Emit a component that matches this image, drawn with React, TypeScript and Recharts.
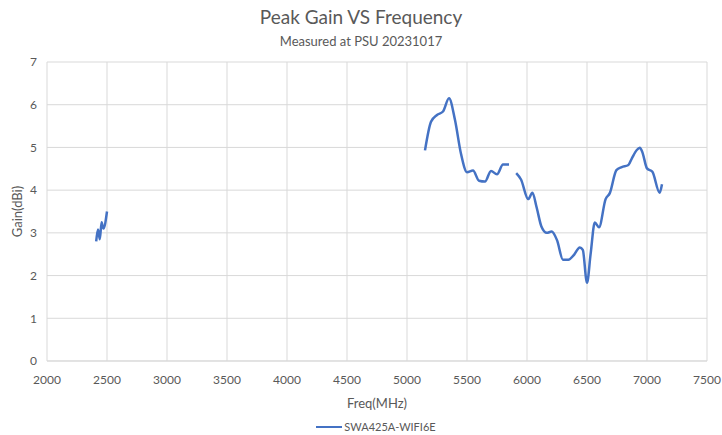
import React from 'react';
import { LineChart, Line, XAxis, YAxis, CartesianGrid } from 'recharts';

// 2.4 GHz band
const band24Freq = [2410, 2425, 2440, 2455, 2470, 2500];
const band24Gain = [2.8, 3.08, 2.85, 3.25, 3.1, 3.5];

// 5 GHz band (UNII 1-3)
const band5Freq = [5150, 5200, 5250, 5300, 5350, 5400, 5450, 5500, 5550, 5600, 5650, 5700, 5750, 5800, 5850];
const band5Gain = [4.93, 5.6, 5.76, 5.84, 6.15, 5.64, 4.85, 4.42, 4.46, 4.22, 4.2, 4.45, 4.37, 4.6, 4.6];

// 6 GHz band
const band6Freq = [5910, 5950, 6010, 6045, 6080, 6120, 6165, 6205, 6250, 6300, 6345, 6390, 6440, 6465, 6500, 6530, 6565, 6600, 6655, 6690, 6745, 6790, 6845, 6875, 6915, 6940, 6960, 7000, 7045, 7105, 7125];
const band6Gain = [4.4, 4.25, 3.79, 3.94, 3.6, 3.15, 3.0, 3.03, 2.83, 2.37, 2.37, 2.48, 2.66, 2.6, 1.83, 2.5, 3.24, 3.13, 3.79, 3.93, 4.47, 4.54, 4.59, 4.75, 4.94, 4.99, 4.9, 4.51, 4.43, 3.94, 4.14];

const xTicks = [2000, 2500, 3000, 3500, 4000, 4500, 5000, 5500, 6000, 6500, 7000, 7500];
const yTicks = [0, 1, 2, 3, 4, 5, 6, 7];

const seriesName = 'SWA425A-WIFI6E';

const toPoints = (freq: number[], gain: number[]) => freq.map((f, i) => ({ freq: f, gain: gain[i] }));

const segments = [
  toPoints(band24Freq, band24Gain),
  toPoints(band5Freq, band5Gain),
  toPoints(band6Freq, band6Gain),
];

const textColor = '#595959';
const lineColor = '#4472C4';
const font = 'Lato, "Open Sans", sans-serif';

export default function App() {
  return (
    <div style={{ position: 'absolute', left: 0, top: 0, width: 722, height: 435, background: '#fff', fontFamily: font }}>
      <div style={{ position: 'absolute', top: 5, left: 0, width: 722, textAlign: 'center', fontSize: 19, color: textColor }}>
        Peak Gain VS Frequency
      </div>
      <div style={{ position: 'absolute', top: 33, left: 0, width: 722, textAlign: 'center', fontSize: 13, color: textColor }}>
        Measured at PSU 20231017
      </div>
      <LineChart width={722} height={435} margin={{ top: 62, right: 15, bottom: 0, left: 0 }}>
        <CartesianGrid stroke="#d9d9d9" strokeWidth={1} />
        <XAxis
          type="number"
          dataKey="freq"
          domain={[2000, 7500]}
          ticks={xTicks}
          height={74}
          tickLine={false}
          axisLine={{ stroke: '#d9d9d9' }}
          tickMargin={8}
          tick={{ fill: textColor, fontSize: 12, fontFamily: font }}
          label={{ value: 'Freq(MHz)', position: 'insideBottom', offset: 27, fill: textColor, fontSize: 13, fontFamily: font }}
          allowDuplicatedCategory={false}
        />
        <YAxis
          type="number"
          domain={[0, 7]}
          ticks={yTicks}
          width={47}
          tickLine={false}
          axisLine={false}
          tickMargin={4}
          tick={{ fill: textColor, fontSize: 12, fontFamily: font }}
          label={{ value: 'Gain(dBi)', angle: -90, position: 'insideLeft', offset: 17, fill: textColor, fontSize: 13, fontFamily: font, style: { textAnchor: 'middle' } }}
        />
        {segments.map((seg, i) => (
          <Line
            key={i}
            data={seg}
            dataKey="gain"
            name={seriesName}
            type="monotone"
            stroke={lineColor}
            strokeWidth={2.5}
            dot={false}
            activeDot={false}
            isAnimationActive={false}
          />
        ))}
      </LineChart>
      <div style={{ position: 'absolute', top: 420, left: 0, width: 722, display: 'flex', justifyContent: 'center', alignItems: 'center', fontSize: 11, color: textColor }}>
        <span style={{ display: 'inline-block', width: 26, height: 0, borderTop: `2.5px solid ${lineColor}`, marginRight: 2, marginLeft: 30 }} />
        <span>{seriesName}</span>
      </div>
    </div>
  );
}
